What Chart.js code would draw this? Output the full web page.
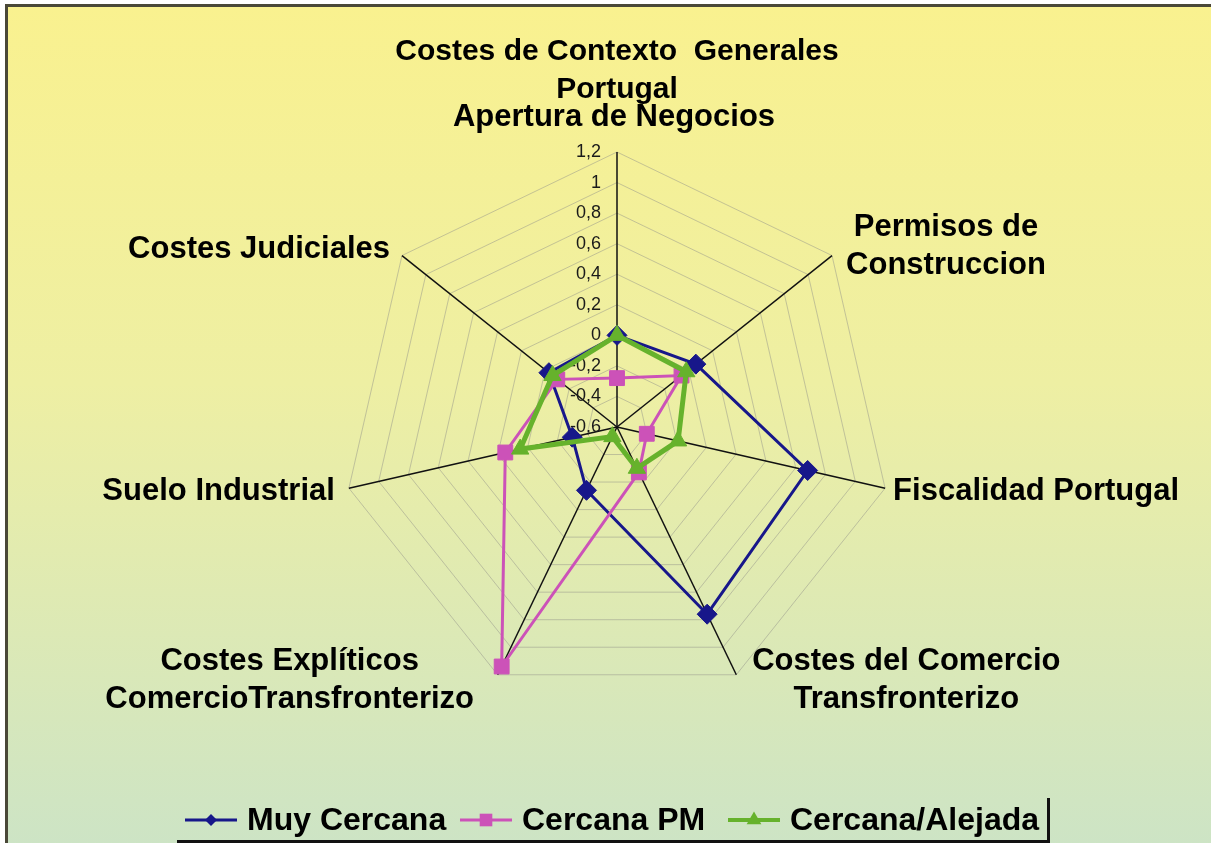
<!DOCTYPE html>
<html><head><meta charset="utf-8">
<script src="https://cdn.jsdelivr.net/npm/chart.js@4/dist/chart.umd.min.js"></script>
<style>
html,body{margin:0;padding:0;background:#fff;}
#wrap{position:relative;width:1211px;height:843px;overflow:hidden;}
#bg{position:absolute;left:5px;top:4px;right:0;bottom:0;border-left:3px solid #4a4838;border-top:3px solid #4a4838;
background:linear-gradient(to bottom, rgb(249,241,143) 0%, rgb(238,239,163) 45%, rgb(205,228,197) 100%);}
canvas{position:absolute;left:0;top:0;}
</style></head><body>
<div id="wrap"><div id="bg"></div><canvas id="c" width="1211" height="843"></canvas></div>
<script>
// ---- data ----
const CATEGORIES = [
  ['Apertura de Negocios'],
  ['Permisos de', 'Construccion'],
  ['Fiscalidad Portugal'],
  ['Costes del Comercio', 'Transfronterizo'],
  ['Costes Explíticos', 'ComercioTransfronterizo'],
  ['Suelo Industrial'],
  ['Costes Judiciales']
];
const SERIES_NAMES = ['Muy Cercana', 'Cercana PM', 'Cercana/Alejada'];
const MUY_CERCANA     = [0.00, 0.06, 0.68, 0.76, -0.14, -0.30, -0.03];
const CERCANA_PM      = [-0.28, -0.06, -0.40, -0.27, 1.14, 0.15, -0.10];
const CERCANA_ALEJADA = [0.00, -0.02, -0.19, -0.30, -0.53, 0.05, -0.06];
const TICK_LABELS = ['-0,6', '-0,4', '-0,2', '0', '0,2', '0,4', '0,6', '0,8', '1', '1,2'];
const TITLE_LINES = ['Costes de Contexto  Generales', 'Portugal'];
const AXIS_MIN = -0.6, AXIS_MAX = 1.2, AXIS_STEP = 0.2;

// ---- styles ----
const FONT = '"Liberation Sans", Arial, Helvetica, sans-serif';
const BLUE = '#17178a', PINK = '#cc52b8', GREEN = '#66b22c';
const LABEL_LAYOUT = [
  {align: 'center', dx: -3,   dy: -35},
  {align: 'center', dx: 114,  dy: -9},
  {align: 'left',   dx: 8,    dy: 3},
  {align: 'center', dx: 170,  dy: 6},
  {align: 'center', dx: -208, dy: 6},
  {align: 'right',  dx: -14,  dy: 3},
  {align: 'right',  dx: -12,  dy: -6}
];
const LEGEND_X = [185, 460, 728];
const LEGEND_Y = 820;

function drawMarker(ctx, style, x, y, r) {
  ctx.beginPath();
  if (style === 'rectRot') {
    const s = r * Math.SQRT1_2;
    ctx.moveTo(x - s, y); ctx.lineTo(x, y + s); ctx.lineTo(x + s, y); ctx.lineTo(x, y - s);
  } else if (style === 'rect') {
    const s = r * Math.SQRT1_2;
    ctx.rect(x - s, y - s, 2 * s, 2 * s);
  } else {
    for (let k = 0; k < 3; k++) {
      const a = k * 2 * Math.PI / 3;
      const px = x + Math.sin(a) * r, py = y - Math.cos(a) * r;
      if (k === 0) ctx.moveTo(px, py); else ctx.lineTo(px, py);
    }
  }
  ctx.closePath();
  ctx.fill();
}

const customDraw = {
  id: 'customDraw',
  beforeDatasetsDraw(chart) {
    const ctx = chart.ctx, s = chart.scales.r;
    ctx.save();
    // tick labels
    ctx.font = '18px ' + FONT;
    ctx.fillStyle = '#1a1a1a';
    ctx.textAlign = 'right';
    ctx.textBaseline = 'middle';
    s.ticks.forEach(t => {
      const d = s.getDistanceFromCenterForValue(t.value);
      ctx.fillText(t.label, s.xCenter - 16, s.yCenter - d);
    });
    // point labels
    ctx.font = 'bold 31px ' + FONT;
    ctx.fillStyle = '#000';
    CATEGORIES.forEach((lines, i) => {
      const p = s.getPointPosition(i, s.drawingArea);
      const L = LABEL_LAYOUT[i];
      ctx.textAlign = L.align;
      const cy = p.y + L.dy;
      lines.forEach((ln, j) => {
        ctx.fillText(ln, p.x + L.dx, cy + (j - (lines.length - 1) / 2) * 38);
      });
    });
    ctx.restore();
  },
  afterDraw(chart) {
    const ctx = chart.ctx;
    ctx.save();
    ctx.font = 'bold 32px ' + FONT;
    ctx.textAlign = 'left';
    ctx.textBaseline = 'middle';
    chart.data.datasets.forEach((ds, i) => {
      const x = LEGEND_X[i];
      ctx.strokeStyle = ds.borderColor;
      ctx.lineWidth = i === 2 ? 4 : 3;
      ctx.beginPath(); ctx.moveTo(x, LEGEND_Y); ctx.lineTo(x + 52, LEGEND_Y); ctx.stroke();
      ctx.fillStyle = ds.borderColor;
      drawMarker(ctx, ds.pointStyle, x + 26, LEGEND_Y, ds.pointRadius * 0.85);
      ctx.fillStyle = '#000';
      ctx.fillText(ds.label, x + 62, LEGEND_Y + 1);
    });
    // legend frame (visible part)
    ctx.strokeStyle = '#111';
    ctx.lineWidth = 3;
    ctx.beginPath();
    ctx.moveTo(177, 841.5); ctx.lineTo(1050, 841.5);
    ctx.moveTo(1048.5, 798); ctx.lineTo(1048.5, 843);
    ctx.stroke();
    ctx.restore();
  }
};

new Chart(document.getElementById('c'), {
  type: 'radar',
  data: {
    labels: CATEGORIES,
    datasets: [
      {label: SERIES_NAMES[0], data: MUY_CERCANA, borderColor: BLUE, backgroundColor: BLUE,
       pointBackgroundColor: BLUE, pointBorderColor: BLUE, borderWidth: 3, pointStyle: 'rectRot',
       pointRadius: 10, pointBorderWidth: 1, fill: false, order: 2},
      {label: SERIES_NAMES[1], data: CERCANA_PM, borderColor: PINK, backgroundColor: PINK,
       pointBackgroundColor: PINK, pointBorderColor: PINK, borderWidth: 3, pointStyle: 'rect',
       pointRadius: 10.5, pointBorderWidth: 1, fill: false, order: 1},
      {label: SERIES_NAMES[2], data: CERCANA_ALEJADA, borderColor: GREEN, backgroundColor: GREEN,
       pointBackgroundColor: GREEN, pointBorderColor: GREEN, borderWidth: 5, pointStyle: 'triangle',
       pointRadius: 10, pointBorderWidth: 1, fill: false, order: 0}
    ]
  },
  options: {
    responsive: false,
    animation: false,
    events: [],
    devicePixelRatio: 1,
    layout: {padding: {top: 14, left: 23, right: 0, bottom: 141}},
    elements: {line: {tension: 0}},
    plugins: {
      legend: {display: false},
      tooltip: {enabled: false},
      title: {
        display: true,
        text: TITLE_LINES,
        color: '#000',
        font: {family: FONT, size: 30, weight: 'bold', lineHeight: '38px'},
        padding: {top: 19, bottom: 43}
      }
    },
    scales: {
      r: {
        min: AXIS_MIN, max: AXIS_MAX,
        ticks: {
          stepSize: AXIS_STEP, display: false,
          callback: v => TICK_LABELS[Math.round((v - AXIS_MIN) / AXIS_STEP)]
        },
        grid: {color: 'rgba(150,150,140,0.5)', lineWidth: 1},
        angleLines: {color: '#111', lineWidth: 1.5},
        pointLabels: {display: false}
      }
    }
  },
  plugins: [customDraw]
});
</script>
</body></html>
